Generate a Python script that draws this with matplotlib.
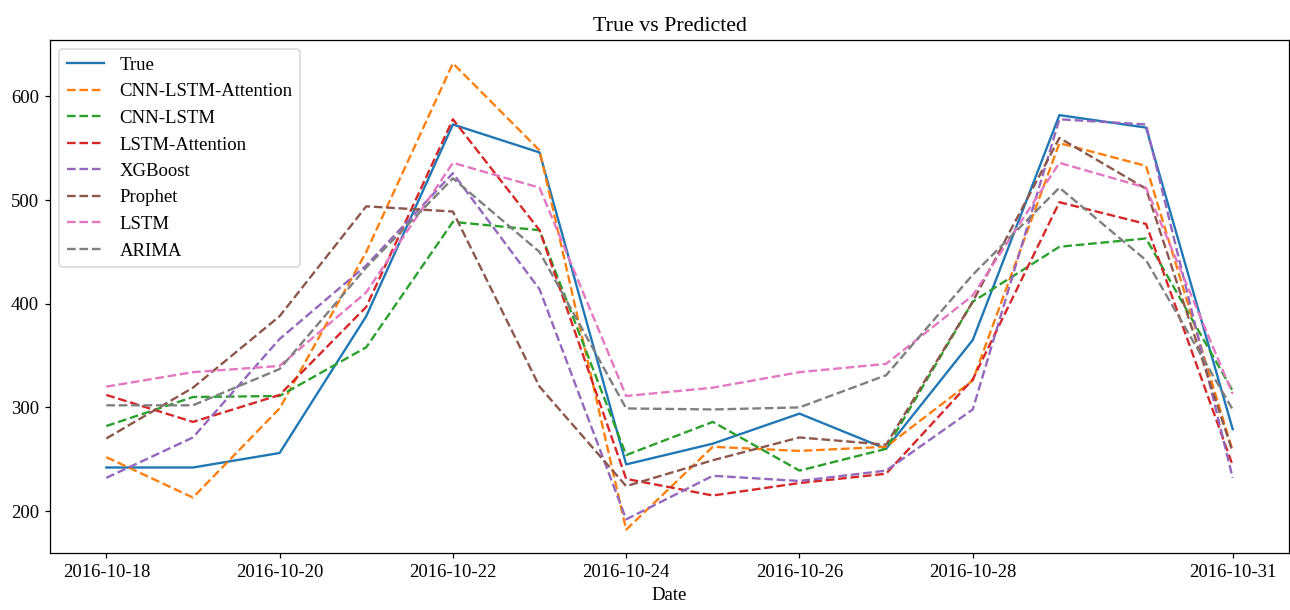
import numpy as np
import pandas as pd
import matplotlib
matplotlib.use('Agg')
import matplotlib.pyplot as plt

plt.rcParams['font.family'] = ['Liberation Serif', 'DejaVu Serif']

dates = pd.date_range('2016-10-18', '2016-10-31', freq='D')

true_vals = [242, 242, 256, 388, 573, 546, 245, 265, 294, 260, 365, 582, 570, 279]
cnn_lstm_att = [252, 213, 299, 450, 632, 548, 182, 262, 258, 262, 326, 555, 533, 258]
cnn_lstm = [282, 310, 311, 358, 479, 471, 254, 286, 239, 260, 402, 455, 463, 316]
lstm_att = [312, 286, 312, 397, 578, 471, 231, 215, 227, 236, 327, 498, 477, 244]
xgboost = [232, 271, 366, 437, 526, 414, 192, 234, 229, 239, 298, 578, 573, 232]
prophet = [270, 319, 388, 494, 489, 320, 224, 249, 271, 264, 402, 560, 511, 257]
lstm = [320, 334, 340, 411, 536, 512, 311, 319, 334, 342, 408, 536, 512, 313]
arima = [302, 302, 337, 435, 521, 450, 299, 298, 300, 331, 428, 512, 442, 298]

preds = {
    'CNN-LSTM-Attention': cnn_lstm_att,
    'CNN-LSTM': cnn_lstm,
    'LSTM-Attention': lstm_att,
    'XGBoost': xgboost,
    'Prophet': prophet,
    'LSTM': lstm,
    'ARIMA': arima,
}

dpi = 112.5
fig = plt.figure(figsize=(1290 / dpi, 610 / dpi), dpi=dpi)
ax = fig.add_axes([50 / 1290, 57 / 610, 1239 / 1290, 513 / 610])

ax.plot(dates, true_vals, label='True')
for name, vals in preds.items():
    ax.plot(dates, vals, linestyle='--', label=name)

tick_dates = pd.to_datetime(['2016-10-18', '2016-10-20', '2016-10-22', '2016-10-24',
                             '2016-10-26', '2016-10-28', '2016-10-31'])
ax.set_xticks(tick_dates)
ax.set_xticklabels([d.strftime('%Y-%m-%d') for d in tick_dates])
ax.tick_params(labelsize=12)

ax.set_title('True vs Predicted', fontsize=14)
ax.set_xlabel('Date', fontsize=12)
ax.legend(loc='upper left', fontsize=12)

fig.savefig('out.png', dpi=dpi)
